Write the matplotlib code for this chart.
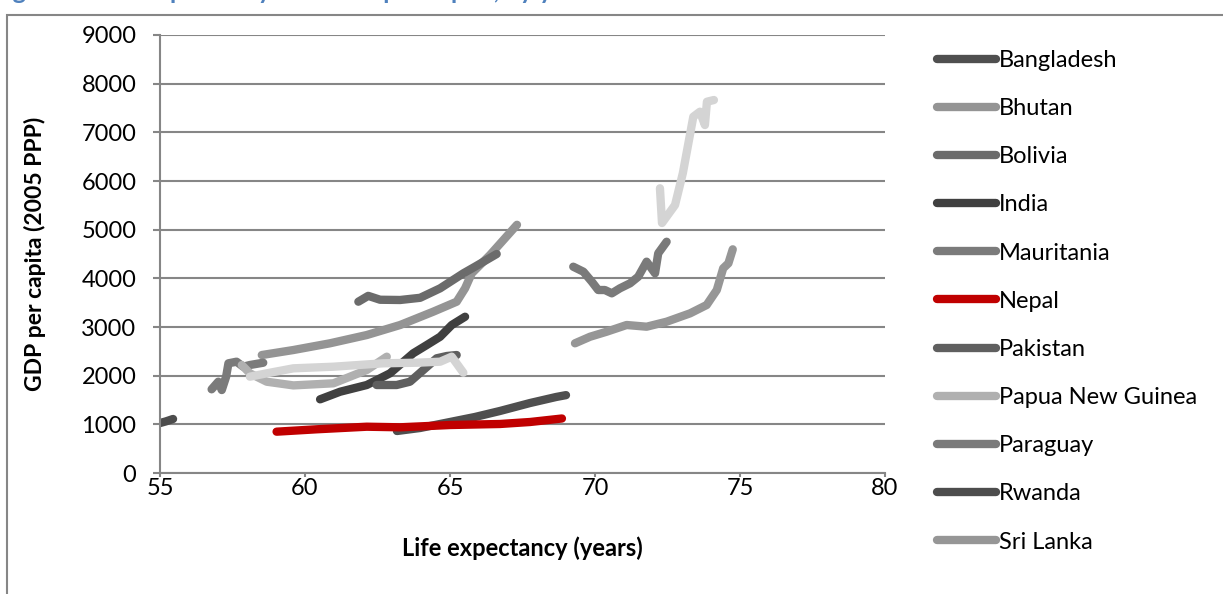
import matplotlib
matplotlib.use("Agg")
import matplotlib.pyplot as plt
from matplotlib.lines import Line2D
from matplotlib.patches import Rectangle

plt.rcParams['font.family'] = ['Lato', 'DejaVu Sans']

# ---- data (life expectancy, GDP per capita 2005 PPP) ----
bangladesh_x = [63.17, 63.97, 65.0, 65.86, 66.72, 67.76, 68.66, 69.0]
bangladesh_y = [863, 925, 1048, 1151, 1274, 1438, 1562, 1600]

bhutan_x = [58.51, 59.6, 60.86, 62.13, 63.28, 64.42, 65.23, 65.52, 65.75, 66.38, 67.31]
bhutan_y = [2424, 2527, 2665, 2835, 3041, 3314, 3520, 3795, 4103, 4480, 5100]

bolivia_x = [61.84, 62.18, 62.59, 63.28, 63.97, 64.66, 65.46, 65.86, 66.61]
bolivia_y = [3520, 3640, 3560, 3555, 3600, 3795, 4103, 4239, 4500]

india_x = [60.52, 61.21, 62.13, 62.93, 63.73, 64.2, 64.66, 65.06, 65.52]
india_y = [1514, 1670, 1808, 2048, 2459, 2630, 2800, 3041, 3211]

mauritania_x = [56.78, 57.01, 57.13, 57.28, 57.36, 57.64, 57.87, 58.1, 58.56]
mauritania_y = [1720, 1876, 1705, 1979, 2254, 2287, 2184, 2219, 2266]

nepal_x = [59.02, 60.4, 62.13, 63.28, 65.0, 66.72, 67.76, 68.86]
nepal_y = [849, 898, 951, 939, 986, 1007, 1048, 1120]

pakistan_x = [62.47, 63.16, 63.62, 64.08, 64.54, 64.89, 65.23]
pakistan_y = [1808, 1808, 1876, 2116, 2357, 2404, 2424]

png_x = [57.82, 58.1, 58.68, 59.6, 60.98, 62.13, 62.82]
png_y = [2219, 2048, 1876, 1800, 1843, 2116, 2390]

paraguay_x = [69.25, 69.6, 69.89, 70.11, 70.34, 70.58, 70.86, 71.21, 71.49, 71.78, 72.07, 72.18, 72.47]
paraguay_y = [4239, 4136, 3931, 3760, 3760, 3692, 3795, 3898, 4033, 4342, 4103, 4514, 4752]

rwanda_x = [54.9, 55.2, 55.45]
rwanda_y = [1010, 1060, 1110]

srilanka_x = [69.31, 69.83, 70.4, 71.09, 71.78, 72.47, 73.28, 73.85, 74.2, 74.42, 74.6, 74.75]
srilanka_y = [2665, 2800, 2903, 3041, 3006, 3109, 3281, 3452, 3760, 4206, 4309, 4596]

# series beyond the visible legend entries
extra1_x = [72.24, 72.31, 72.76, 73.03, 73.39, 73.62, 73.79, 73.86, 74.1]
extra1_y = [5850, 5137, 5507, 6164, 7321, 7424, 7150, 7629, 7664]

extra2_x = [58.1, 58.68, 59.6, 60.98, 62.7, 63.85, 64.66, 65.06, 65.46]
extra2_y = [1979, 2048, 2151, 2184, 2254, 2266, 2287, 2390, 2061]

series = [
    ("Bangladesh", bangladesh_x, bangladesh_y, "#4f4f4f"),
    ("Bhutan", bhutan_x, bhutan_y, "#949494"),
    ("Bolivia", bolivia_x, bolivia_y, "#6b6b6b"),
    ("India", india_x, india_y, "#404040"),
    ("Mauritania", mauritania_x, mauritania_y, "#7b7b7b"),
    ("Nepal", nepal_x, nepal_y, "#c00000"),
    ("Pakistan", pakistan_x, pakistan_y, "#5f5f5f"),
    ("Papua New Guinea", png_x, png_y, "#b0b0b0"),
    ("Paraguay", paraguay_x, paraguay_y, "#7a7a7a"),
    ("Rwanda", rwanda_x, rwanda_y, "#4d4d4d"),
    ("Sri Lanka", srilanka_x, srilanka_y, "#969696"),
    ("_extra1", extra1_x, extra1_y, "#d4d4d4"),
    ("_extra2", extra2_x, extra2_y, "#d4d4d4"),
]

x_ticks = [55, 60, 65, 70, 75, 80]
y_ticks = [0, 1000, 2000, 3000, 4000, 5000, 6000, 7000, 8000, 9000]

W, H = 1223, 594
fig = plt.figure(figsize=(W / 100, H / 100), dpi=100)
ax = fig.add_axes([160 / W, 1 - 473 / H, (885 - 160) / W, (473 - 35) / H])

grid_c = "#868686"
lw = 6.0
FS = 17
handles = []
for name, xs, ys, c in series:
    ax.plot(xs, ys, color=c, lw=lw, solid_capstyle='round', solid_joinstyle='round')
    if not name.startswith("_"):
        handles.append((Line2D([], [], color=c, lw=lw, solid_capstyle='round'), name))

ax.set_xlim(55, 80)
ax.set_ylim(0, 9000)
ax.set_xticks(x_ticks)
ax.set_yticks(y_ticks)
ax.set_xticklabels([str(v) for v in x_ticks])
ax.set_yticklabels([str(v) for v in y_ticks])
ax.yaxis.grid(True, color=grid_c, lw=1.5)
ax.set_axisbelow(True)
for s in ["top", "right"]:
    ax.spines[s].set_visible(False)
for s in ["left", "bottom"]:
    ax.spines[s].set_color(grid_c)
    ax.spines[s].set_linewidth(1.5)
ax.tick_params(axis='y', direction='out', length=5, width=1.5, color=grid_c,
               labelsize=FS, pad=12, labelcolor='black')
ax.tick_params(axis='x', direction='out', length=3, width=1.5, color=grid_c,
               labelsize=FS, pad=0.5, labelcolor='black')

ax.set_xlabel("Life expectancy (years)", fontsize=17, fontweight='bold', va='center')
ax.set_ylabel("GDP per capita (2005 PPP)", fontsize=16.5, fontweight='bold', va='center')
ax.xaxis.set_label_coords(0.5, -(548 - 473) / 438)
ax.yaxis.set_label_coords((35 - 160) / 725, 0.5)

leg = fig.legend([h for h, _ in handles], [n for _, n in handles],
                 loc='upper left', bbox_to_anchor=(937 / W, 1 - 50 / H),
                 frameon=False, fontsize=FS, handlelength=2.5, handletextpad=0.13,
                 labelspacing=1.15, borderpad=0, borderaxespad=0)

# chart border (extends past right/bottom edges)
fig.patches.append(Rectangle((7 / W, -0.1), 1.2, 1 - 15 / H + 0.1, transform=fig.transFigure,
                             fill=False, edgecolor=grid_c, lw=1.5))

# caption above, mostly cut off
fig.text(-8 / W, 1 + 1 / H, "Figure 4: Life expectancy and GDP per capita, by year",
         color="#4f81bd", fontsize=18, fontweight='bold', ha='left', va='baseline')

fig.savefig("out.png", dpi=100)
